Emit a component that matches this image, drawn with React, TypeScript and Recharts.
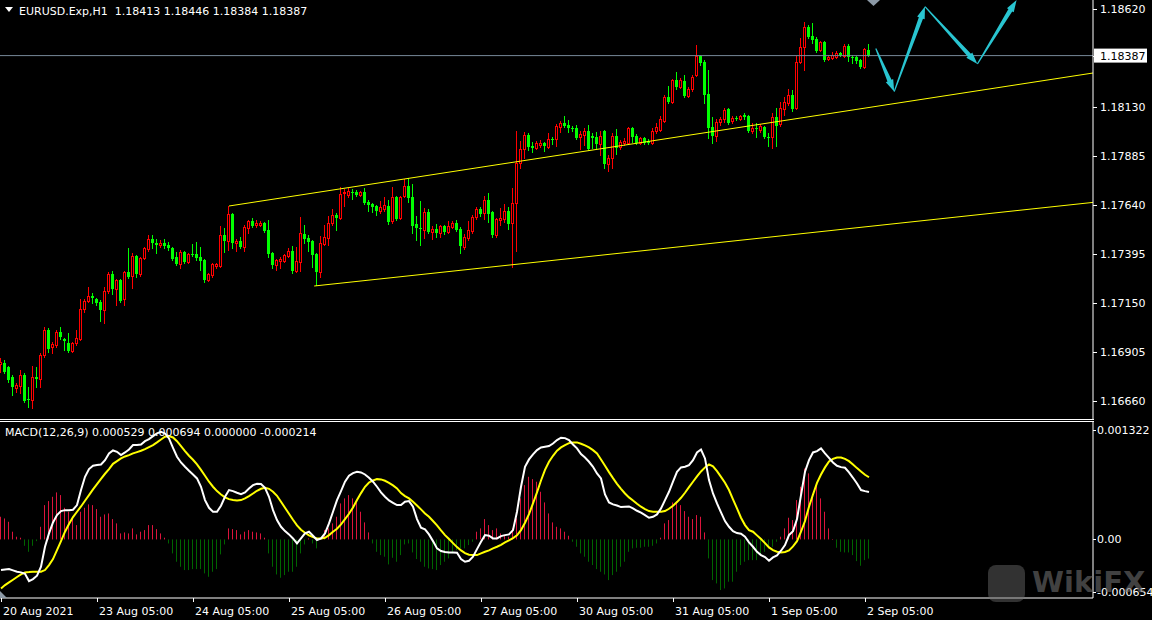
import React from "react";
import { ComposedChart, Bar, Line, XAxis, YAxis, ReferenceLine } from "recharts";

const symbolTitle = "EURUSD.Exp,H1";
const lastQuote = ["1.18413", "1.18446", "1.18384", "1.18387"];
const macdTitle = "MACD(12,26,9) 0.000529 0.000694 0.000000 -0.000214";

const opens = [
  1.16845, 1.1685, 1.1683, 1.1678, 1.16725, 1.16735, 1.1679, 1.1667, 1.16665, 1.1678,
  1.1677, 1.1689, 1.17015, 1.1693, 1.1694, 1.17005, 1.1697, 1.1695, 1.1691, 1.1695,
  1.1697, 1.1712, 1.1716, 1.17185, 1.1717, 1.17155, 1.17115, 1.1721, 1.17295, 1.1722,
  1.17265, 1.1717, 1.17305, 1.17285, 1.17385, 1.17295, 1.17375, 1.1742, 1.1747, 1.1745,
  1.1744, 1.1745, 1.1744, 1.17425, 1.1738, 1.17345, 1.17405, 1.17355, 1.17395, 1.17395,
  1.1738, 1.17365, 1.17265, 1.1729, 1.17335, 1.17335, 1.1749, 1.1746, 1.17595, 1.1745,
  1.1746, 1.1743, 1.17525, 1.1756, 1.1754, 1.1754, 1.1755, 1.17515, 1.174, 1.1734,
  1.1736, 1.1736, 1.17385, 1.1741, 1.1731, 1.17355, 1.17495, 1.17475, 1.1746, 1.17395,
  1.17305, 1.17445, 1.17475, 1.1755, 1.1759, 1.17575, 1.177, 1.1769, 1.17705, 1.17705,
  1.1769, 1.17705, 1.17655, 1.17645, 1.17635, 1.1761, 1.1762, 1.17635, 1.1756, 1.1768,
  1.17575, 1.17685, 1.17735, 1.1768, 1.17545, 1.17525, 1.17515, 1.17605, 1.17505, 1.1752,
  1.175, 1.17535, 1.17505, 1.1753, 1.1755, 1.1752, 1.1743, 1.17475, 1.1751, 1.1758,
  1.1762, 1.176, 1.17665, 1.17605, 1.1749, 1.17565, 1.1757, 1.1761, 1.1755, 1.1765,
  1.1785, 1.1792, 1.1799, 1.17935, 1.17925, 1.1794, 1.1795, 1.1793, 1.1797, 1.1797,
  1.1803, 1.1805, 1.1804, 1.18025, 1.18025, 1.1798, 1.1799, 1.1801, 1.17985, 1.1798,
  1.17945, 1.1801, 1.17845, 1.17875, 1.17985, 1.1793, 1.1795, 1.1795, 1.18025, 1.17985,
  1.1795, 1.17975, 1.1796, 1.1795, 1.1801, 1.18015, 1.1806, 1.1818, 1.18155, 1.18265,
  1.1823, 1.1826, 1.18185, 1.1822, 1.1829, 1.18385, 1.18355, 1.18195, 1.1803, 1.17985,
  1.18055, 1.1807, 1.1812, 1.1806, 1.18075, 1.1807, 1.1809, 1.18085, 1.1801, 1.18025,
  1.18015, 1.1803, 1.1798, 1.1798, 1.1808, 1.18045, 1.1812, 1.1815, 1.1819, 1.18125,
  1.18355, 1.1843, 1.1853, 1.18485, 1.1847, 1.18415, 1.18455, 1.1837, 1.18375, 1.1838,
  1.184, 1.18385, 1.18435, 1.1838, 1.1838, 1.18365, 1.1833, 1.18413,
];

const highs = [
  1.16875, 1.16865, 1.16835, 1.1679, 1.1675, 1.16815, 1.168, 1.1673, 1.16835, 1.1683,
  1.169, 1.1703, 1.17025, 1.16955, 1.17015, 1.1703, 1.16975, 1.17, 1.16955, 1.17015,
  1.1717, 1.1717, 1.1723, 1.172, 1.17175, 1.17165, 1.1723, 1.17305, 1.1731, 1.1727,
  1.1727, 1.1731, 1.17425, 1.174, 1.1739, 1.1738, 1.1743, 1.1749, 1.1749, 1.1747,
  1.17465, 1.1747, 1.17455, 1.1743, 1.17405, 1.17415, 1.1741, 1.174, 1.17445, 1.17455,
  1.1743, 1.1737, 1.173, 1.1735, 1.1735, 1.17535, 1.17525, 1.17635, 1.176, 1.1747,
  1.1748, 1.1754, 1.17565, 1.17575, 1.17565, 1.1756, 1.17555, 1.17565, 1.17405, 1.1737,
  1.1738, 1.17395, 1.17425, 1.17435, 1.1743, 1.1758, 1.1754, 1.1749, 1.17465, 1.174,
  1.17485, 1.1754, 1.17585, 1.1762, 1.176, 1.1773, 1.1772, 1.17725, 1.1772, 1.17715,
  1.1771, 1.17725, 1.17665, 1.1765, 1.1764, 1.1766, 1.1768, 1.17665, 1.1773, 1.17685,
  1.17685, 1.1777, 1.17775, 1.17745, 1.17585, 1.1766, 1.17625, 1.1762, 1.17535, 1.17545,
  1.1754, 1.1754, 1.1756, 1.1756, 1.17565, 1.1753, 1.17495, 1.1756, 1.1759, 1.1763,
  1.1763, 1.17685, 1.177, 1.1761, 1.17575, 1.17625, 1.17645, 1.1763, 1.17725, 1.1801,
  1.1796, 1.18005, 1.18, 1.17955, 1.1796, 1.17965, 1.17955, 1.18, 1.1798, 1.18045,
  1.1806, 1.18085, 1.18065, 1.18035, 1.1804, 1.1801, 1.18025, 1.1804, 1.18, 1.18005,
  1.1801, 1.18015, 1.1789, 1.18, 1.1802, 1.17965, 1.17975, 1.1803, 1.1803, 1.17995,
  1.1798, 1.1798, 1.1797, 1.18025, 1.1805, 1.18085, 1.1819, 1.18235, 1.1827, 1.18305,
  1.18275, 1.1829, 1.1823, 1.1829, 1.1844, 1.1839, 1.18365, 1.18315, 1.1808, 1.1807,
  1.1808, 1.18125, 1.18125, 1.18085, 1.18085, 1.1809, 1.181, 1.1809, 1.1805, 1.1805,
  1.18045, 1.18035, 1.18, 1.181, 1.18125, 1.18155, 1.1818, 1.1822, 1.18215, 1.18385,
  1.18475, 1.18555, 1.1854, 1.1855, 1.1848, 1.1846, 1.1846, 1.1839, 1.18405, 1.1841,
  1.18405, 1.18445, 1.18445, 1.1839, 1.18385, 1.1837, 1.18425, 1.18446,
];

const lows = [
  1.16805, 1.168, 1.16755, 1.1669, 1.16705, 1.167, 1.16655, 1.1663, 1.16625, 1.1673,
  1.1673, 1.1688, 1.16905, 1.169, 1.1693, 1.1697, 1.16915, 1.16905, 1.16905, 1.1694,
  1.16965, 1.17105, 1.17155, 1.1715, 1.1714, 1.1706, 1.1705, 1.172, 1.17195, 1.1714,
  1.17155, 1.1714, 1.17275, 1.17225, 1.1728, 1.17285, 1.1737, 1.1741, 1.17425, 1.174,
  1.1743, 1.17425, 1.17415, 1.17365, 1.1734, 1.17325, 1.1735, 1.1735, 1.17385, 1.17365,
  1.17315, 1.17255, 1.1726, 1.1728, 1.17325, 1.1733, 1.17405, 1.17415, 1.17425, 1.1741,
  1.17425, 1.1741, 1.175, 1.1753, 1.1753, 1.17535, 1.17505, 1.1738, 1.17325, 1.17315,
  1.17325, 1.17355, 1.1738, 1.173, 1.17305, 1.1731, 1.1745, 1.1741, 1.1733, 1.1724,
  1.1728, 1.1744, 1.1744, 1.1754, 1.17515, 1.1757, 1.17635, 1.1768, 1.1767, 1.17685,
  1.17685, 1.17645, 1.1761, 1.17605, 1.1759, 1.176, 1.1761, 1.17545, 1.1755, 1.17565,
  1.1757, 1.1768, 1.17655, 1.175, 1.17465, 1.1744, 1.17475, 1.175, 1.1747, 1.1748,
  1.1748, 1.17495, 1.175, 1.17525, 1.1751, 1.174, 1.1742, 1.17465, 1.175, 1.1757,
  1.17585, 1.1757, 1.17555, 1.1748, 1.1748, 1.1754, 1.17555, 1.1752, 1.1733, 1.1741,
  1.17825, 1.17875, 1.17915, 1.17905, 1.1792, 1.1793, 1.1791, 1.17925, 1.17945, 1.17935,
  1.18005, 1.1803, 1.18005, 1.1801, 1.1797, 1.1792, 1.1794, 1.17915, 1.17925, 1.17925,
  1.1789, 1.17825, 1.1781, 1.17825, 1.17895, 1.1792, 1.1794, 1.17945, 1.17955, 1.17945,
  1.17945, 1.17945, 1.17945, 1.17945, 1.18, 1.1801, 1.18055, 1.1815, 1.1815, 1.1822,
  1.18225, 1.1818, 1.1818, 1.1821, 1.18285, 1.1834, 1.1815, 1.17975, 1.1795, 1.1796,
  1.1804, 1.18055, 1.18045, 1.1805, 1.18065, 1.18065, 1.1807, 1.18005, 1.18, 1.1798,
  1.18005, 1.17975, 1.17935, 1.17925, 1.17935, 1.18035, 1.1809, 1.1814, 1.1811, 1.1812,
  1.1835, 1.18315, 1.18475, 1.1845, 1.18405, 1.1841, 1.1836, 1.18365, 1.1837, 1.18375,
  1.18385, 1.1838, 1.1836, 1.1835, 1.1835, 1.18325, 1.18325, 1.18384,
];

const closes = [
  1.16855, 1.16805, 1.16765, 1.1673, 1.1674, 1.1679, 1.1666, 1.16665, 1.1678, 1.1677,
  1.1689, 1.17015, 1.1692, 1.16945, 1.17005, 1.1698, 1.1696, 1.1691, 1.1695, 1.16975,
  1.1712, 1.1716, 1.17185, 1.17175, 1.1715, 1.17115, 1.1721, 1.17295, 1.1722, 1.17265,
  1.1716, 1.17305, 1.1728, 1.17385, 1.17295, 1.17375, 1.17425, 1.1747, 1.1745, 1.1744,
  1.1745, 1.17435, 1.17425, 1.1737, 1.17345, 1.17405, 1.17355, 1.17395, 1.1739, 1.17375,
  1.1736, 1.17265, 1.17295, 1.17345, 1.17345, 1.1749, 1.1746, 1.17595, 1.1745, 1.1746,
  1.1743, 1.1753, 1.1756, 1.17535, 1.1755, 1.1755, 1.1751, 1.17395, 1.1734, 1.17365,
  1.1737, 1.1739, 1.1741, 1.1731, 1.1736, 1.175, 1.1747, 1.17455, 1.1739, 1.17305,
  1.1745, 1.1748, 1.1755, 1.1759, 1.17575, 1.17695, 1.17705, 1.1771, 1.177, 1.1769,
  1.17705, 1.1765, 1.1764, 1.1763, 1.1761, 1.1763, 1.1764, 1.17555, 1.1768, 1.1757,
  1.1768, 1.17735, 1.17675, 1.17535, 1.17525, 1.1752, 1.17605, 1.17505, 1.1752, 1.175,
  1.17535, 1.17505, 1.17535, 1.1755, 1.17515, 1.17435, 1.1748, 1.17515, 1.1758, 1.1762,
  1.17595, 1.17665, 1.17595, 1.1749, 1.1757, 1.17575, 1.1761, 1.17545, 1.1765, 1.1785,
  1.1792, 1.1799, 1.1793, 1.17925, 1.1795, 1.1795, 1.17935, 1.1797, 1.17965, 1.18035,
  1.1805, 1.18035, 1.18025, 1.1802, 1.17975, 1.17995, 1.1801, 1.1792, 1.17975, 1.17945,
  1.17985, 1.17845, 1.17875, 1.17985, 1.17925, 1.17955, 1.1796, 1.18025, 1.1798, 1.1795,
  1.17975, 1.1795, 1.1795, 1.1801, 1.1803, 1.1807, 1.1818, 1.18155, 1.18265, 1.1823,
  1.18265, 1.18185, 1.1822, 1.1828, 1.18385, 1.1835, 1.1819, 1.18025, 1.17985, 1.18055,
  1.1807, 1.18115, 1.1805, 1.18075, 1.1807, 1.18085, 1.1808, 1.1801, 1.18025, 1.1802,
  1.18035, 1.1798, 1.17975, 1.1808, 1.18035, 1.18125, 1.18155, 1.1819, 1.1812, 1.18355,
  1.1843, 1.1853, 1.1848, 1.18465, 1.1841, 1.18455, 1.18365, 1.1838, 1.1839, 1.184,
  1.1839, 1.18435, 1.1838, 1.18375, 1.1836, 1.1833, 1.1842, 1.18387,
];

// MACD values in millionths (x 1e-6)
const macdMainMicro = [
  -342, -335, -331, -346, -361, -368, -383, -465, -443, -405,
  -305, -82, 67, 190, 272, 316, 327, 327, 331, 383,
  551, 699, 785, 822, 830, 837, 885, 960, 993, 978,
  941, 971, 1004, 1053, 1053, 1060, 1097, 1120, 1153, 1183,
  1202, 1183, 1127, 1023, 923, 859, 811, 766, 725, 681,
  588, 439, 353, 309, 309, 376, 476, 551, 539, 521,
  506, 525, 569, 606, 621, 618, 577, 476, 327, 216,
  141, 93, 56, 11, -45, 11, 67, 86, 41, -7,
  11, 67, 179, 309, 439, 539, 644, 711, 740, 755,
  748, 725, 688, 644, 588, 525, 476, 435, 409, 383,
  383, 420, 428, 365, 227, 130, 112, 56, -19, -100,
  -130, -141, -145, -145, -149, -219, -249, -238, -193, -108,
  -26, 48, 41, 11, 11, 37, 48, 56, 104, 309,
  588, 811, 893, 949, 997, 1027, 1034, 1042, 1071, 1109,
  1135, 1131, 1109, 1060, 1016, 952, 915, 867, 811, 737,
  681, 502, 413, 391, 379, 361, 365, 368, 346, 320,
  298, 272, 242, 253, 279, 346, 439, 532, 644, 755,
  804, 811, 830, 885, 971, 1004, 904, 662, 513, 402,
  301, 205, 141, 93, 71, 63, 30, -33, -82, -138,
  -175, -197, -238, -201, -179, -126, -63, 48, 93, 227,
  495, 755, 885, 971, 986, 1016, 960, 911, 859, 822,
  807, 800, 748, 688, 625, 551, 539, 529,
];

const macdSignalMicro = [
  -547, -510, -480, -450, -420, -391, -368, -365, -361, -361,
  -361, -342, -286, -219, -119, -19, 86, 171, 249, 309,
  368, 432, 495, 558, 618, 677, 733, 785, 844, 874,
  904, 926, 941, 960, 975, 990, 1008, 1030, 1053, 1083,
  1116, 1146, 1153, 1138, 1097, 1042, 986, 934, 889, 837,
  777, 711, 644, 588, 539, 502, 469, 450, 439, 435,
  439, 458, 484, 513, 543, 565, 577, 565, 532, 487,
  420, 353, 286, 219, 156, 108, 74, 45, 26, 11,
  11, 19, 48, 86, 119, 167, 227, 286, 357, 439,
  517, 588, 636, 658, 673, 670, 655, 632, 603, 569,
  517, 484, 458, 420, 379, 335, 290, 253, 205, 156,
  100, 48, 4, -41, -86, -123, -153, -171, -175, -175,
  -156, -138, -123, -100, -82, -60, -33, -11, 15, 45,
  104, 186, 283, 402, 525, 658, 777, 867, 934, 990,
  1027, 1053, 1075, 1083, 1083, 1068, 1049, 1027, 997, 960,
  893, 822, 751, 684, 621, 565, 513, 469, 435, 398,
  365, 339, 316, 309, 309, 309, 316, 342, 376, 417,
  465, 521, 584, 644, 703, 759, 804, 837, 815, 763,
  699, 632, 551, 446, 346, 242, 160, 104, 86, 45,
  4, -41, -89, -119, -138, -145, -141, -123, -78, -19,
  86, 205, 365, 502, 632, 725, 804, 870, 900, 915,
  915, 900, 874, 837, 796, 759, 722, 694,
];

const macdHistMicro = [
  253, 234, 197, 86, 30, 19, -71, -138, -71, -19,
  141, 383, 428, 476, 525, 495, 353, 309, 227, 160,
  309, 353, 391, 383, 339, 253, 279, 290, 227, 179,
  67, 78, 67, 123, 56, 86, 104, 160, 160, 115,
  67, 19, -45, -156, -249, -305, -342, -342, -331, -331,
  -331, -379, -417, -361, -331, -167, -56, 123, 115, 104,
  56, 86, 104, 86, 78, 67, 19, -156, -305, -391,
  -428, -398, -361, -361, -305, -156, -56, 11, -45, -100,
  11, 104, 123, 179, 253, 402, 458, 495, 458, 413,
  309, 190, 78, -45, -138, -175, -193, -279, -205, -249,
  -175, -56, -45, -145, -219, -249, -305, -324, -331, -342,
  -286, -249, -212, -156, -119, -100, -100, -63, -26, 86,
  123, 227, 160, 104, 123, 67, 48, 30, 123, 234,
  458, 606, 699, 673, 644, 532, 413, 290, 190, 141,
  123, 86, 41, -26, -82, -156, -193, -249, -286, -331,
  -361, -391, -454, -398, -361, -305, -249, -138, -100, -93,
  -93, -82, -82, -71, -45, 19, 179, 216, 413, 428,
  383, 316, 253, 227, 272, 253, 78, -212, -454, -491,
  -565, -547, -472, -472, -361, -286, -249, -231, -231, -231,
  -175, -138, -100, -82, -26, 30, 123, 242, 216, 439,
  588, 792, 737, 495, 606, 458, 309, 123, 0, -93,
  -138, -145, -145, -175, -242, -294, -231, -214,
];

const timeTickIndex = [0, 24, 48, 72, 96, 120, 144, 168, 192, 216];
const timeTickLabels = [
  "20 Aug 2021", "23 Aug 05:00", "24 Aug 05:00", "25 Aug 05:00", "26 Aug 05:00",
  "27 Aug 05:00", "30 Aug 05:00", "31 Aug 05:00", "1 Sep 05:00", "2 Sep 05:00",
];

const priceTicks = [1.1862, 1.18387, 1.1813, 1.17885, 1.1764, 1.17395, 1.1715, 1.16905, 1.1666];
const priceTickLabels = ["1.18620", "1.18387", "1.18130", "1.17885", "1.17640", "1.17395", "1.17150", "1.16905", "1.16660"];
const bidPrice = 1.18387;
const priceDomain = [1.1657, 1.18665];

const macdTicks = [0.001322, 0, -0.000654];
const macdTickLabels = ["0.001322", "0.00", "-0.000654"];
const macdDomain = [-0.000654, 0.001322];

const xDomain = [-0.25, 273];

const upperChannel = [[57, 1.17635], [273, 1.183]];
const lowerChannel = [[78.3, 1.17235], [273, 1.17653]];
const forecastPath = [[218.7, 1.18423], [223.3, 1.18207], [231, 1.18632], [244.1, 1.18345], [253.9, 1.18665]];

const candleRows = opens.map((o, i) => ({
  i,
  o,
  h: highs[i],
  l: lows[i],
  c: closes[i],
  range: [lows[i], highs[i]],
}));

const macdRows = macdMainMicro.map((m, i) => ({
  i,
  main: m / 1e6,
  signal: macdSignalMicro[i] / 1e6,
  hist: macdHistMicro[i] / 1e6,
}));

const FONT = '"DejaVu Sans", Verdana, sans-serif';
const BULL = "#ff0000";
const BEAR = "#00ff00";

const Candle = (props: any) => {
  const { x, y, width, height, payload } = props;
  if (x == null || y == null || !payload) return null;
  const top = Math.min(y, y + height);
  const bot = Math.max(y, y + height);
  const span = payload.h - payload.l;
  const py = (p: number) => (span > 0 ? top + ((payload.h - p) / span) * (bot - top) : top);
  const cx = Math.floor(x + width / 2);
  const bull = payload.c >= payload.o;
  const yo = py(payload.o);
  const yc = py(payload.c);
  const bTop = Math.round(Math.min(yo, yc));
  const bBot = Math.round(Math.max(yo, yc));
  const color = bull ? BULL : BEAR;
  return (
    <g>
      <line x1={cx + 0.5} x2={cx + 0.5} y1={Math.round(top)} y2={Math.round(bot) + 1} stroke={color} strokeWidth={1} />
      {bull ? (
        <rect x={cx - 0.5} y={bTop + 0.5} width={2} height={Math.max(bBot - bTop, 1)} fill="#000" stroke={color} strokeWidth={1} />
      ) : (
        <rect x={cx - 1} y={bTop} width={3} height={Math.max(bBot - bTop, 1)} fill={color} />
      )}
    </g>
  );
};

const HistBar = (props: any) => {
  const { x, y, width, height, payload } = props;
  if (x == null || y == null || !payload) return null;
  const top = Math.min(y, y + height);
  const h = Math.abs(height);
  const cx = Math.floor(x + width / 2);
  return <rect x={cx} y={top} width={1} height={Math.max(h, 0.5)} fill={payload.hist >= 0 ? "#dc143c" : "#006400"} />;
};

const ArrowShape = (props: any) => {
  const { x1, y1, x2, y2 } = props;
  if ([x1, y1, x2, y2].some((v) => typeof v !== "number" || isNaN(v))) return null;
  const dx = x2 - x1;
  const dy = y2 - y1;
  const L = Math.hypot(dx, dy) || 1;
  const ux = dx / L;
  const uy = dy / L;
  const nx = -uy;
  const ny = ux;
  const headLen = 12;
  const headW = 4;
  const s0 = 0.6;
  const s1 = 2.2;
  const bx = x2 - ux * headLen;
  const by = y2 - uy * headLen;
  const pts = [
    [x1 + nx * s0, y1 + ny * s0],
    [bx + nx * s1, by + ny * s1],
    [bx + nx * headW, by + ny * headW],
    [x2, y2],
    [bx - nx * headW, by - ny * headW],
    [bx - nx * s1, by - ny * s1],
    [x1 - nx * s0, y1 - ny * s0],
  ];
  return <polygon points={pts.map((p) => `${p[0]},${p[1]}`).join(" ")} fill="#29c5d1" />;
};

const findIdx = (arr: number[], v: number) => arr.findIndex((t) => Math.abs(t - v) < 1e-9);

const PriceTick = (props: any) => {
  const { x, y, payload } = props;
  const idx = findIdx(priceTicks, payload.value);
  const label = idx >= 0 ? priceTickLabels[idx] : "";
  const isBid = Math.abs(payload.value - bidPrice) < 1e-9;
  return (
    <g>
      <line x1={x} x2={x + 4} y1={Math.round(y) + 0.5} y2={Math.round(y) + 0.5} stroke="#fff" />
      {isBid && <rect x={x + 1} y={y - 7} width={53} height={14} fill="#fff" />}
      <text x={x + 7} y={y + 4} fill={isBid ? "#000" : "#fff"} fontSize={11} fontFamily={FONT}>
        {label}
      </text>
    </g>
  );
};

const MacdTick = (props: any) => {
  const { x, y, payload } = props;
  const idx = findIdx(macdTicks, payload.value);
  const label = idx >= 0 ? macdTickLabels[idx] : "";
  const shift = idx === 0 ? 9 : idx === 2 ? -6 : 0;
  const yy = Math.round(y + shift) + 0.5;
  return (
    <g>
      <line x1={x} x2={x + 3} y1={yy} y2={yy} stroke="#fff" />
      <text x={x + 4} y={y + shift + 4} fill="#fff" fontSize={11} fontFamily={FONT}>
        {label}
      </text>
    </g>
  );
};

const TimeTick = (props: any) => {
  const { x, y, payload } = props;
  const idx = findIdx(timeTickIndex, payload.value);
  const label = idx >= 0 ? timeTickLabels[idx] : "";
  const xx = Math.round(x) + 0.5;
  return (
    <g>
      <line x1={xx} x2={xx} y1={y} y2={y + 4} stroke="#fff" />
      <text x={x + 2} y={y + 17} fill="#fff" fontSize={11} fontFamily={FONT}>
        {label}
      </text>
    </g>
  );
};

export default function App() {
  return (
    <div
      style={{
        position: "fixed",
        left: 0,
        top: 0,
        width: 1152,
        height: 620,
        background: "#000",
        overflow: "hidden",
        fontFamily: FONT,
      }}
    >
      <div style={{ position: "absolute", left: 0, top: 0 }}>
        <ComposedChart width={1152} height={419} data={candleRows} margin={{ top: 0, right: 0, bottom: 0, left: 0 }}>
          <XAxis dataKey="i" type="number" domain={xDomain} hide allowDataOverflow />
          <YAxis
            orientation="right"
            type="number"
            domain={priceDomain}
            allowDataOverflow
            ticks={priceTicks}
            interval={0}
            width={59}
            tickSize={0}
            tickMargin={0}
            tickLine={false}
            axisLine={{ stroke: "#fff" }}
            tick={PriceTick}
          />
          <ReferenceLine y={bidPrice} stroke="#778899" strokeWidth={1} />
          <ReferenceLine
            segment={[{ x: upperChannel[0][0], y: upperChannel[0][1] }, { x: upperChannel[1][0], y: upperChannel[1][1] }]}
            stroke="#ffff00"
            strokeWidth={1}
            ifOverflow="visible"
          />
          <ReferenceLine
            segment={[{ x: lowerChannel[0][0], y: lowerChannel[0][1] }, { x: lowerChannel[1][0], y: lowerChannel[1][1] }]}
            stroke="#ffff00"
            strokeWidth={1}
            ifOverflow="visible"
          />
          <Bar dataKey="range" barSize={3} shape={Candle} isAnimationActive={false} />
          {forecastPath.slice(0, -1).map((p, k) => (
            <ReferenceLine
              key={"arrow" + k}
              segment={[{ x: p[0], y: p[1] }, { x: forecastPath[k + 1][0], y: forecastPath[k + 1][1] }]}
              shape={ArrowShape}
              ifOverflow="visible"
            />
          ))}
        </ComposedChart>
      </div>

      <div style={{ position: "absolute", left: 0, top: 419, width: 1094, height: 1, background: "#fff" }} />
      <div style={{ position: "absolute", left: 0, top: 421, width: 1094, height: 1, background: "#fff" }} />

      <div style={{ position: "absolute", left: 0, top: 421 }}>
        <ComposedChart width={1152} height={199} data={macdRows} margin={{ top: 0, right: 0, bottom: 0, left: 0 }}>
          <XAxis
            dataKey="i"
            type="number"
            domain={xDomain}
            allowDataOverflow
            ticks={timeTickIndex}
            interval={0}
            height={22}
            tickSize={0}
            tickMargin={0}
            tickLine={false}
            axisLine={{ stroke: "#fff" }}
            tick={TimeTick}
          />
          <YAxis
            orientation="right"
            type="number"
            domain={macdDomain}
            allowDataOverflow
            ticks={macdTicks}
            interval={0}
            width={59}
            tickSize={0}
            tickMargin={0}
            tickLine={false}
            axisLine={{ stroke: "#fff" }}
            tick={MacdTick}
          />
          <Bar dataKey="hist" barSize={1} shape={HistBar} isAnimationActive={false} />
          <Line dataKey="signal" type="linear" stroke="#ffff00" strokeWidth={2} dot={false} activeDot={false} isAnimationActive={false} />
          <Line dataKey="main" type="linear" stroke="#ffffff" strokeWidth={2} dot={false} activeDot={false} isAnimationActive={false} />
        </ComposedChart>
      </div>

      <svg style={{ position: "absolute", left: 0, top: 0 }} width={1152} height={620} pointerEvents="none">
        <polygon points="5,7 13,7 9,12" fill="#fff" />
        <polygon points="867,0 880,0 873.5,6" fill="#8c99a6" />
        <polygon points="0,591 7,598 0,598" fill="#8c99a6" />
      </svg>

      <div
        style={{
          position: "absolute",
          left: 19,
          top: 5,
          fontSize: 11,
          lineHeight: "13px",
          color: "#fff",
          whiteSpace: "pre",
        }}
      >
        {symbolTitle + "  " + lastQuote.join(" ")}
      </div>

      <div
        style={{
          position: "absolute",
          left: 5,
          top: 426,
          fontSize: 11,
          lineHeight: "13px",
          color: "#fff",
          whiteSpace: "pre",
        }}
      >
        {macdTitle}
      </div>

      <div
        style={{
          position: "absolute",
          left: 988,
          top: 565,
          width: 37,
          height: 37,
          borderRadius: 8,
          background: "rgba(110,110,110,0.45)",
        }}
      />
      <div
        style={{
          position: "absolute",
          left: 1032,
          top: 565,
          fontSize: 29,
          fontWeight: "bold",
          lineHeight: "34px",
          color: "rgba(110,110,110,0.6)",
          fontFamily: FONT,
        }}
      >
        WikiFX
      </div>
    </div>
  );
}
